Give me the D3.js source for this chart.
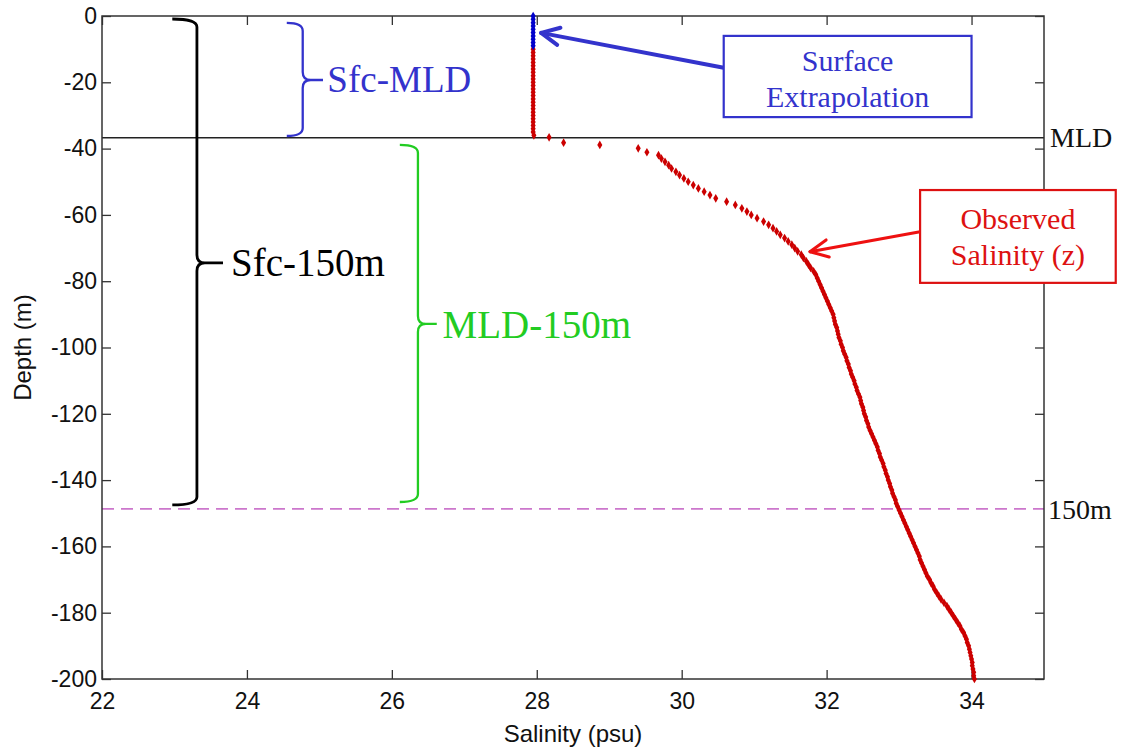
<!DOCTYPE html>
<html><head><meta charset="utf-8">
<script src="https://cdn.jsdelivr.net/npm/d3@7"></script>
<style>html,body{margin:0;padding:0;background:#fff;}</style>
</head><body>
<svg id="c" width="1121" height="751"></svg>
<script>
// ---- data ----
const xTicks = [22, 24, 26, 28, 30, 32, 34];
const yTicks = [0, -20, -40, -60, -80, -100, -120, -140, -160, -180, -200];
// surface extrapolation (blue)
const surfDepth = [0, -1, -2, -3, -4, -5, -6, -7, -8, -9];
const surfSal   = [27.95, 27.95, 27.95, 27.95, 27.95, 27.95, 27.95, 27.95, 27.95, 27.95];
// observed salinity (red)
const obsDepth = [-10,-11,-12,-13,-14,-15,-16,-17,-18,-19,-20,-21,-22,-23,-24,-25,-26,-27,-28,-29,-30,-31,-32,-33,-34,-35,-36,
  -36.6,-38.2,-38.9,-39.9,-41.1,
  -42,-43,-44,-45,-46,-47,-48,-49,-50,-51,-52,-53,-54,-55,-56,-57,-58,-59,-60,-61,-62,-63,-64,-65,-66,-67,-68,-69,-70,
  -71,-72,-73,-74,-75,-76,-77,-78,-79,-80,-81,-82,-83,-84,-85,-86,-87,-88,-89,-90,-91,-92,-93,-94,-95,-96,-97,-98,-99,-100,
  -101,-102,-103,-104,-105,-106,-107,-108,-109,-110,-111,-112,-113,-114,-115,-116,-117,-118,-119,-120,-121,-122,-123,-124,-125,
  -126,-127,-128,-129,-130,-131,-132,-133,-134,-135,-136,-137,-138,-139,-140,-141,-142,-143,-144,-145,-146,-147,-148,-149,-150,
  -151,-152,-153,-154,-155,-156,-157,-158,-159,-160,-161,-162,-163,-164,-165,-166,-167,-168,-169,-170,-171,-172,-173,-174,-175,
  -176,-177,-178,-179,-180,-181,-182,-183,-184,-185,-186,-187,-188,-189,-190,-191,-192,-193,-194,-195,-196,-197,-198,-199,-200];
const obsSal = [27.95,27.95,27.95,27.95,27.95,27.95,27.95,27.95,27.95,27.95,27.95,27.95,27.95,27.95,27.95,27.95,27.95,27.95,27.95,27.95,27.95,27.95,27.95,27.95,27.95,27.95,27.96,
  28.17,28.37,28.87,29.40,29.52,
  29.68,29.72,29.77,29.82,29.86,29.92,29.97,30.03,30.09,30.16,30.23,30.31,30.39,30.47,30.62,30.74,30.83,30.90,30.96,31.04,31.13,31.20,31.26,31.31,31.36,31.42,31.47,31.52,31.56,
  31.60,31.65,31.68,31.72,31.75,31.78,31.82,31.85,31.87,31.89,31.91,31.93,31.95,31.97,31.99,32.01,32.03,32.05,32.07,32.09,32.10,32.11,32.12,32.14,32.15,32.16,32.17,32.19,32.20,32.22,
  32.23,32.25,32.27,32.28,32.30,32.31,32.33,32.34,32.36,32.38,32.39,32.41,32.42,32.44,32.46,32.47,32.48,32.50,32.51,32.52,32.54,32.55,32.57,32.58,32.60,
  32.62,32.64,32.66,32.68,32.70,32.71,32.73,32.74,32.76,32.78,32.79,32.81,32.82,32.84,32.85,32.87,32.88,32.90,32.91,32.93,32.95,32.96,32.98,33.00,33.02,
  33.04,33.06,33.08,33.10,33.12,33.14,33.16,33.18,33.20,33.22,33.24,33.26,33.28,33.29,33.31,33.33,33.35,33.37,33.39,33.42,33.44,33.47,33.49,33.52,33.55,
  33.58,33.62,33.66,33.69,33.72,33.75,33.78,33.81,33.84,33.86,33.89,33.91,33.93,33.94,33.96,33.97,33.98,33.99,34.00,34.01,34.01,34.02,34.03,34.03,34.04];
const mldDepth = -36.7;
const refDepth = -148.7;

// ---- layout ----
const svg = d3.select('#c');
svg.append('rect').attr('width',1121).attr('height',751).attr('fill','#fff');
const x = d3.scaleLinear().domain([22,35]).range([102,1044]);
const y = d3.scaleLinear().domain([-200,0]).range([679,16]);
const sans = 'Liberation Sans, Arial, sans-serif';
const serif = 'Liberation Serif, Times New Roman, serif';
const axCol = '#333';

// reference lines
svg.append('line').attr('x1',x(22)).attr('x2',x(35)).attr('y1',y(mldDepth)).attr('y2',y(mldDepth))
  .attr('stroke','#222').attr('stroke-width',1.5);
svg.append('line').attr('x1',x(22)).attr('x2',x(35)).attr('y1',y(refDepth)).attr('y2',y(refDepth))
  .attr('stroke','#cc77cc').attr('stroke-width',1.8).attr('stroke-dasharray','12,7');

// axes
function styleAxis(g){
  g.selectAll('path').remove();
  g.selectAll('line').attr('stroke',axCol).attr('stroke-width',1.3);
  g.selectAll('text').attr('font-family',sans).attr('font-size',23).attr('fill','#111');
}
const fmt = d => String(d);
svg.append('g').attr('transform',`translate(0,${y(-200)})`)
  .call(d3.axisBottom(x).tickValues(xTicks).tickFormat(fmt).tickSizeInner(-9).tickSizeOuter(0).tickPadding(14)).call(styleAxis);
svg.append('g').attr('transform',`translate(0,${y(0)})`)
  .call(d3.axisTop(x).tickValues(xTicks).tickSizeInner(-9).tickSizeOuter(0).tickFormat('')).call(styleAxis);
svg.append('g').attr('transform',`translate(${x(22)},0)`)
  .call(d3.axisLeft(y).tickValues(yTicks).tickFormat(fmt).tickSizeInner(-9).tickSizeOuter(0).tickPadding(5)).call(styleAxis);
svg.append('g').attr('transform',`translate(${x(35)},0)`)
  .call(d3.axisRight(y).tickValues(yTicks).tickSizeInner(-9).tickSizeOuter(0).tickFormat('')).call(styleAxis);
svg.append('rect').attr('x',x(22)).attr('y',y(0)).attr('width',x(35)-x(22)).attr('height',y(-200)-y(0))
  .attr('fill','none').attr('stroke',axCol).attr('stroke-width',1.5);

// axis labels
svg.append('text').attr('x',(x(22)+x(35))/2).attr('y',742).attr('text-anchor','middle')
  .attr('font-family',sans).attr('font-size',24).attr('fill','#111').text('Salinity (psu)');
svg.append('text').attr('transform',`translate(31,${(y(0)+y(-200))/2}) rotate(-90)`).attr('text-anchor','middle')
  .attr('font-family',sans).attr('font-size',24).attr('fill','#111').text('Depth (m)');

// data points
const diamond = d3.symbol().type(d3.symbolDiamond).size(22);
svg.append('g').selectAll('path').data(obsDepth.map((d,i)=>[obsSal[i],d])).join('path')
  .attr('d',diamond).attr('transform',d=>`translate(${x(d[0])},${y(d[1])})`).attr('fill','#cc0000');
svg.append('g').selectAll('path').data(surfDepth.map((d,i)=>[surfSal[i],d])).join('path')
  .attr('d',diamond).attr('transform',d=>`translate(${x(d[0])},${y(d[1])})`).attr('fill','#0000cc');

// braces
function brace(xv, xh, xt, top, bot, mid, col, w){
  const X=x(xv), H=x(xh), T=x(xt), t=y(top), b=y(bot), m=y(mid), r=8;
  const p = `M${H},${t} Q${X},${t} ${X},${t+r} L${X},${m-r} Q${X},${m} ${X+r},${m} L${T},${m}`+
            ` M${X+r},${m} Q${X},${m} ${X},${m+r} L${X},${b-r} Q${X},${b} ${H},${b}`;
  svg.append('path').attr('d',p).attr('fill','none').attr('stroke',col).attr('stroke-width',w);
}
brace(23.31, 22.97, 23.67, -0.9, -147.5, -74.5, '#000', 2.8);
brace(24.77, 24.55, 25.05, -2.1, -36.2, -19.3, '#3333cc', 2.3);
brace(26.36, 26.11, 26.62, -38.9, -146.6, -92.9, '#22cc22', 2.3);

function label(sx, dep, txt, col, size){
  svg.append('text').attr('x',x(sx)).attr('y',y(dep)).attr('dy','0.35em')
    .attr('font-family',serif).attr('font-size',size).attr('fill',col).text(txt);
}
label(25.11, -19.0, 'Sfc-MLD', '#3333cc', 37);
label(23.78, -74.3, 'Sfc-150m', '#000', 39);
label(26.70, -92.9, 'MLD-150m', '#22cc22', 39);

// right-side labels
svg.append('text').attr('x',1050).attr('y',y(mldDepth)).attr('dy','0.35em').attr('font-family',serif)
  .attr('font-size',28).attr('fill','#111').text('MLD');
svg.append('text').attr('x',1048).attr('y',y(refDepth)).attr('dy','0.35em').attr('font-family',serif)
  .attr('font-size',28).attr('fill','#111').text('150m');

// annotation boxes + arrows
function arrow(x1,y1,x2,y2,col,w){
  svg.append('line').attr('x1',x1).attr('y1',y1).attr('x2',x2).attr('y2',y2).attr('stroke',col).attr('stroke-width',w);
  const a=Math.atan2(y1-y2,x1-x2), L=20, s=0.45;
  [a+s,a-s].forEach(b=>svg.append('line').attr('x1',x2).attr('y1',y2)
    .attr('x2',x2+L*Math.cos(b)).attr('y2',y2+L*Math.sin(b)).attr('stroke',col).attr('stroke-width',w).attr('stroke-linecap','round'));
}
// blue box
const bx0=x(30.58), bx1=x(34.0), by0=y(-6.0), by1=y(-30.5);
svg.append('rect').attr('x',bx0).attr('y',by0).attr('width',bx1-bx0).attr('height',by1-by0)
  .attr('fill','#fff').attr('stroke','#3333cc').attr('stroke-width',2.2);
svg.append('text').attr('x',(bx0+bx1)/2).attr('y',71).attr('text-anchor','middle').attr('font-family',serif)
  .attr('font-size',30).attr('fill','#3333cc').text('Surface');
svg.append('text').attr('x',(bx0+bx1)/2).attr('y',107).attr('text-anchor','middle').attr('font-family',serif)
  .attr('font-size',30).attr('fill','#3333cc').text('Extrapolation');
arrow(bx0, y(-15.6), x(28.06), y(-5.1), '#3333cc', 4);
// red box
const rx0=x(33.29), rx1=x(35.99), ry0=y(-52.5), ry1=y(-80.5);
svg.append('rect').attr('x',rx0).attr('y',ry0).attr('width',rx1-rx0).attr('height',ry1-ry0)
  .attr('fill','#fff').attr('stroke','#dd1111').attr('stroke-width',2.2);
svg.append('text').attr('x',(rx0+rx1)/2).attr('y',229).attr('text-anchor','middle').attr('font-family',serif)
  .attr('font-size',30).attr('fill','#dd1111').text('Observed');
svg.append('text').attr('x',(rx0+rx1)/2).attr('y',265).attr('text-anchor','middle').attr('font-family',serif)
  .attr('font-size',30).attr('fill','#dd1111').text('Salinity (z)');
arrow(rx0, y(-65.1), x(31.77), y(-71.1), '#ee1111', 3);
</script>
</body></html>
